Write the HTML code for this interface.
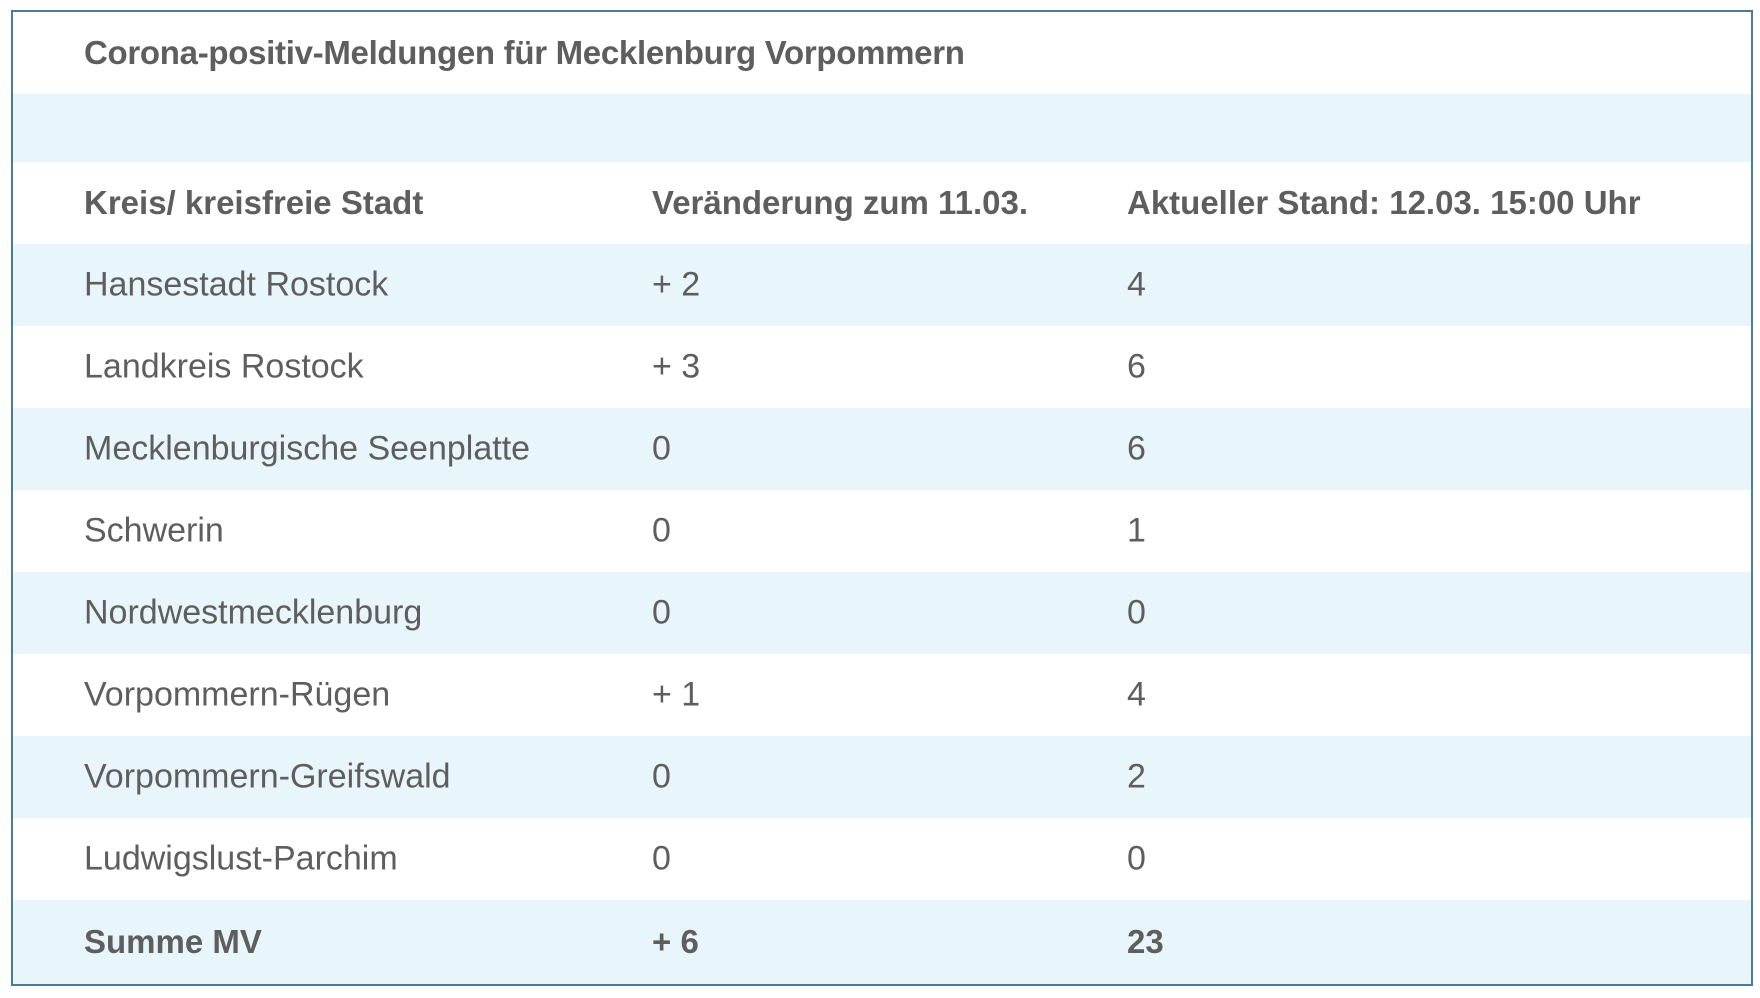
<!DOCTYPE html>
<html><head><meta charset="utf-8"><style>
body{margin:0;width:1760px;height:998px;background:#fff;font-family:"Liberation Sans",sans-serif;color:#5e5e5e;}
.box{position:absolute;left:11px;top:10px;width:1738px;height:972px;border:2px solid #4d7c98;background:#fff;overflow:hidden}
.row{position:absolute;left:0;width:100%;}
.b{background:#e8f5fb}
.t{position:absolute;top:50%;transform:translateY(-50%);font-size:34px;letter-spacing:0px;white-space:nowrap}
.c1{left:71px}.c2{left:639px}.c3{left:1114px}
.bold{font-weight:bold;font-size:33px;letter-spacing:0px}
</style></head><body><div class="box">
<div class="row" style="top:0;height:82px"><span class="t c1 bold" style="font-size:33px;letter-spacing:-0.3px">Corona-positiv-Meldungen für Mecklenburg Vorpommern</span></div>
<div class="row b" style="top:82px;height:68px"></div>
<div class="row" style="top:150px;height:82px"><span class="t c1 bold">Kreis/ kreisfreie Stadt</span><span class="t c2 bold">Veränderung zum 11.03.</span><span class="t c3 bold">Aktueller Stand: 12.03. 15:00 Uhr</span></div>
<div class="row b" style="top:232px;height:82px"><span class="t c1">Hansestadt Rostock</span><span class="t c2">+ 2</span><span class="t c3">4</span></div>
<div class="row" style="top:314px;height:82px"><span class="t c1">Landkreis Rostock</span><span class="t c2">+ 3</span><span class="t c3">6</span></div>
<div class="row b" style="top:396px;height:82px"><span class="t c1">Mecklenburgische Seenplatte</span><span class="t c2">0</span><span class="t c3">6</span></div>
<div class="row" style="top:478px;height:82px"><span class="t c1">Schwerin</span><span class="t c2">0</span><span class="t c3">1</span></div>
<div class="row b" style="top:560px;height:82px"><span class="t c1">Nordwestmecklenburg</span><span class="t c2">0</span><span class="t c3">0</span></div>
<div class="row" style="top:642px;height:82px"><span class="t c1">Vorpommern-Rügen</span><span class="t c2">+ 1</span><span class="t c3">4</span></div>
<div class="row b" style="top:724px;height:82px"><span class="t c1">Vorpommern-Greifswald</span><span class="t c2">0</span><span class="t c3">2</span></div>
<div class="row" style="top:806px;height:82px"><span class="t c1">Ludwigslust-Parchim</span><span class="t c2">0</span><span class="t c3">0</span></div>
<div class="row b" style="top:888px;height:84px"><span class="t c1 bold">Summe MV</span><span class="t c2 bold">+ 6</span><span class="t c3 bold">23</span></div>
</div></body></html>
